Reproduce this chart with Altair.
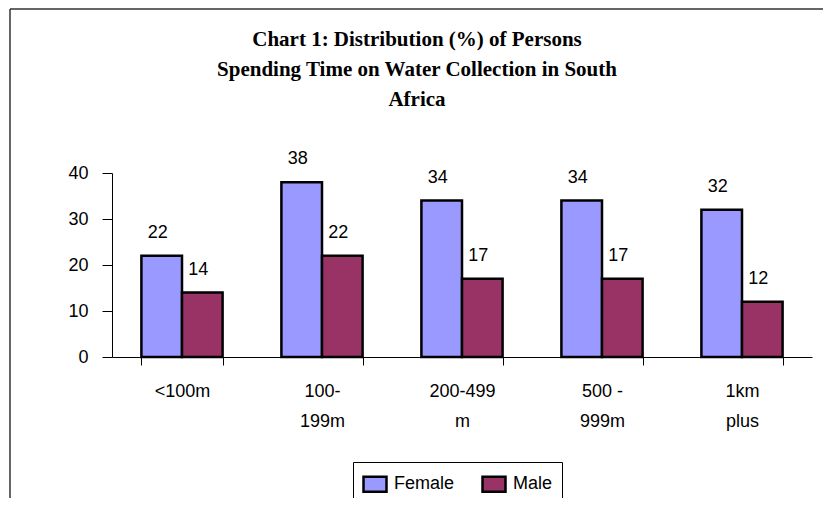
import altair as alt
import pandas as pd

categories = ["<100m", "100-199m", "200-499m", "500 - 999m", "1km plus"]
label_lines = [["<100m"], ["100-", "199m"], ["200-499", "m"], ["500 -", "999m"], ["1km", "plus"]]
series = ["Female", "Male"]
female = [22, 38, 34, 34, 32]
male = [14, 22, 17, 17, 12]
colors = ["#9999FF", "#993366"]
title_lines = ["Chart 1: Distribution (%) of Persons",
               "Spending Time on Water Collection in South",
               "Africa"]

rows = []
for c, f, m in zip(categories, female, male):
    rows.append({"category": c, "sex": "Female", "value": f})
    rows.append({"category": c, "sex": "Male", "value": m})
df = pd.DataFrame(rows)

expr = "''"
for c, lines in reversed(list(zip(categories, label_lines))):
    arr = "[" + ",".join("'" + l + "'" for l in lines) + "]"
    expr = f"datum.value == '{c}' ? {arr} : ({expr})"

FONT = "Liberation Sans"

x_enc = alt.X("category:N", sort=categories, title=None,
              scale=alt.Scale(paddingInner=0.42, paddingOuter=0.21),
              axis=alt.Axis(labelAngle=0, labelExpr=expr, tickBand="extent",
                            tickSize=8, labelPadding=17, labelFontSize=18,
                            labelFont=FONT, labelColor="black", labelLineHeight=30,
                            labelBaseline="top",
                            domainColor="black", tickColor="black"))
xo_enc = alt.XOffset("sex:N", sort=series, scale=alt.Scale(paddingInner=0, paddingOuter=0))
y_enc = alt.Y("value:Q", title=None,
              scale=alt.Scale(domain=[0, 40], nice=False),
              axis=alt.Axis(values=[0, 10, 20, 30, 40], grid=False, tickSize=10,
                            labelPadding=14, labelFontSize=18, labelFont=FONT,
                            labelColor="black", domainColor="black", tickColor="black"))

base = alt.Chart(df)

bars = base.mark_bar(stroke="black", strokeWidth=2.5).encode(
    x=x_enc, xOffset=xo_enc, y=y_enc,
    color=alt.Color("sex:N", sort=series, title=None,
                    scale=alt.Scale(domain=series, range=colors),
                    legend=alt.Legend(orient="none", legendX=241, legendY=289,
                                      direction="horizontal", strokeColor="black",
                                      fillColor="white", padding=9,
                                      symbolType="M-1,-0.65L1,-0.65L1,0.65L-1,0.65Z",
                                      symbolSize=529, symbolStrokeColor="black",
                                      symbolStrokeWidth=2.5, labelFontSize=18,
                                      labelFont=FONT, labelColor="black",
                                      columnPadding=22, labelOffset=6)),
)

labels = base.mark_text(fontSize=18, font=FONT, color="black", dy=-18, dx=-4,
                        baseline="alphabetic").encode(
    x=alt.X("category:N", sort=categories),
    xOffset=alt.XOffset("sex:N", sort=series),
    y="value:Q",
    text="value:Q",
)

one = alt.Data(values=[{"k": 1}])
left_line = alt.Chart(one).mark_rule(color="#333333", strokeWidth=1.5).encode(
    x=alt.value(-102), y=alt.value(-164), y2=alt.value(330))
top_line = alt.Chart(one).mark_rule(color="#333333", strokeWidth=1.5).encode(
    x=alt.value(-102), x2=alt.value(720), y=alt.value(-164))
title = alt.Chart(one).mark_text(font="Liberation Serif", fontWeight="bold",
                                 fontSize=21, lineHeight=30, color="black",
                                 align="center", baseline="middle").encode(
    x=alt.value(305), y=alt.value(-133), text=alt.value(title_lines))

chart = alt.layer(bars, labels, left_line, top_line, title).properties(
    width=700, height=184,
    autosize=alt.AutoSizeParams(type="none"),
    padding={"left": 104, "top": 165, "right": 11, "bottom": 141},
).configure_view(stroke=None)

chart.save("out.html", embed_options={"renderer": "svg", "actions": False})
